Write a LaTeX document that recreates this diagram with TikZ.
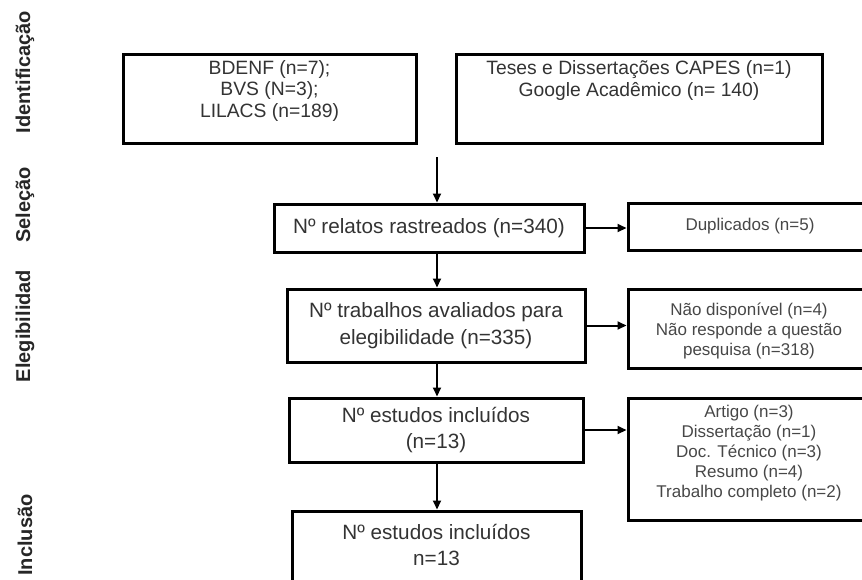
\documentclass[tikz,border=0pt]{standalone}
\usepackage{fontspec}
\setmainfont{Liberation Sans}
\usetikzlibrary{arrows.meta}
\begin{document}
\begin{tikzpicture}[x=1pt,y=-1pt,
  box/.style={draw=black, line width=3pt, inner sep=0pt, align=center, text=black!80, font=\fontsize{20.7}{26.5}\selectfont},
  sidebox/.style={box, font=\fontsize{17}{20}\selectfont, text=black!72},
  toptext/.style={align=center, inner sep=0pt, text=black!80, font=\fontsize{19.3}{21.2}\selectfont},
  conn/.style={line width=2pt, -{Triangle[length=9pt,width=8pt]}},
  phase/.style={rotate=90, inner sep=0pt, font=\fontsize{20}{24}\selectfont\bfseries, text=black!85}]
\useasboundingbox (0,0) rectangle (862,579);

% phase labels
\node[phase] (pid) at (25,72) {Identificação};
\node[phase] (psel) at (25,205) {Seleção};
\node[phase] (peleg) at (25,326) {Elegibilidad};
\node[phase] (pinc) at (25,535) {Inclusão};

% boxes
\node[box, minimum width=293, minimum height=89] (b1) at (269.5,98.5) {};
\node[toptext] (b1t) at (269.5,91) {BDENF (n=7);\\BVS (N=3);\\LILACS (n=189)};
\node[box, minimum width=366, minimum height=89] (b2) at (639,98.5) {};
\node[toptext] (b2t) at (639,80.5) {Teses e Dissertações CAPES (n=1)\\Google Acadêmico (n= 140)};

\node[box, minimum width=310, minimum height=48] (relatos) at (429,228) {Nº relatos rastreados (n=340)};
\node[sidebox, minimum width=238, minimum height=47] (dup) at (747,226.5) {\hspace*{6pt}Duplicados (n=5)};

\node[box, minimum width=298, minimum height=73] (trab) at (436,325.5) {Nº trabalhos avaliados para\\elegibilidade (n=335)};
\node[box, minimum width=238, minimum height=79] (nao) at (747,328.5) {};
\node[sidebox, draw=none] (naot) at (749,331) {Não disponível (n=4)\\Não responde a questão\\pesquisa (n=318)};

\node[box, minimum width=294, minimum height=64] (est) at (436,430) {Nº estudos incluídos\\(n=13)};
\node[box, minimum width=238, minimum height=122] (art) at (747,459) {};
\node[sidebox, draw=none] (artt) at (749,453) {Artigo (n=3)\\Dissertação (n=1)\\Doc. Técnico (n=3)\\Resumo (n=4)\\Trabalho completo (n=2)};

\node[box, minimum width=289, minimum height=89] (fin) at (436.5,555.5) {};
\node[toptext, font=\fontsize{20.7}{26}\selectfont] (fint) at (436.5,544.5) {Nº estudos incluídos\\n=13};

% connectors
\coordinate (ax) at (437,0);
\coordinate (src) at (437,157);
\draw[conn] (src) -- (relatos.north -| ax);
\draw[conn] (relatos.south -| ax) -- (trab.north -| ax);
\draw[conn] (trab.south -| ax) -- (est.north -| ax);
\draw[conn] (est.south -| ax) -- (fin.north -| ax);
\draw[conn] (relatos.east) -- (relatos.east -| dup.west);
\draw[conn] (trab.east) -- (trab.east -| nao.west);
\draw[conn] (est.east) -- (est.east -| art.west);
\end{tikzpicture}
\end{document}
